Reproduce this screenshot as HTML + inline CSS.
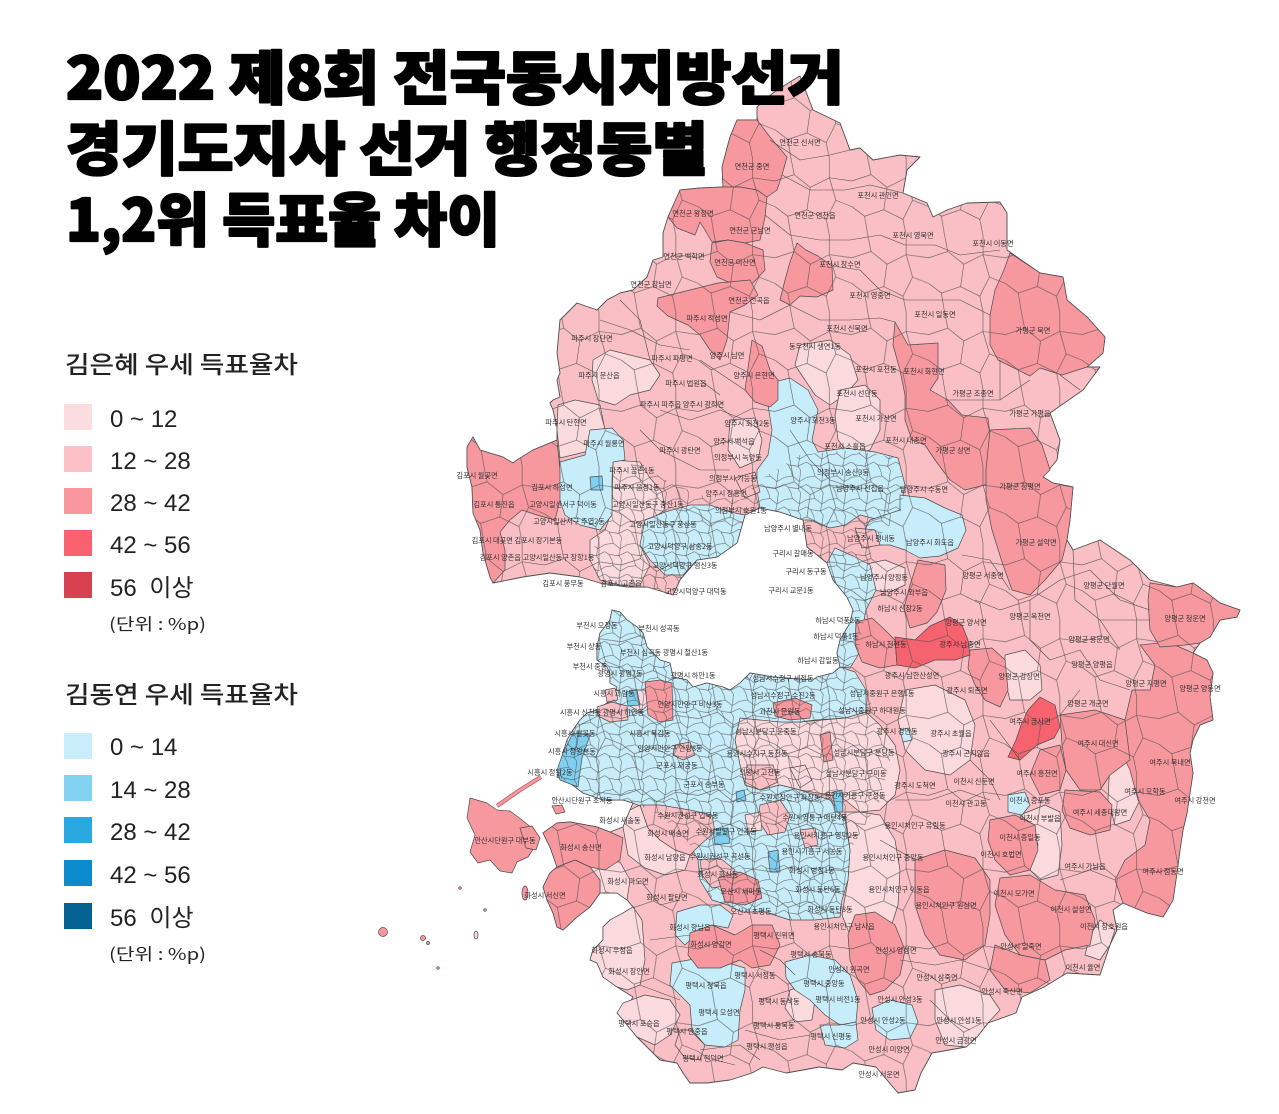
<!DOCTYPE html>
<html><head><meta charset="utf-8"><style>
html,body{margin:0;padding:0;background:#fff;}
svg{display:block;}
</style></head><body>
<svg width="1279" height="1114" viewBox="0 0 1279 1114" xmlns="http://www.w3.org/2000/svg" xmlns:xlink="http://www.w3.org/1999/xlink">
<defs>
<pattern id="coarse" width="48" height="48" patternUnits="userSpaceOnUse" patternTransform="translate(7,5) scale(1.6)">
<path d="M0,14 L12,10 L22,18 L34,12 L48,14 M12,10 L10,0 M22,18 L20,32 L8,36 L0,30 M20,32 L32,38 L34,48 M34,12 L38,26 L32,38 M38,26 L48,30 M8,36 L10,48 M34,0 L34,12" fill="none" stroke="#555" stroke-width="0.36"/>
</pattern>
<pattern id="fine" width="16" height="16" patternUnits="userSpaceOnUse" patternTransform="scale(1.4)">
<path d="M0,5 L6,4 L11,8 L16,5 M6,4 L5,0 M11,8 L10,13 L3,12 L0,10 M16,10 L10,13 M3,12 L5,16 M10,13 L12,16 M12,0 L11,8" fill="none" stroke="#555" stroke-width="0.36"/>
</pattern>
<polygon id="outer" points="800,76 813,110 840,123 850,150 860,148 873,160 900,155 920,157 907,170 903,193 927,203 933,217 947,210 967,203 1000,202 1007,213 1007,250 1040,273 1063,277 1067,300 1087,317 1105,337 1103,353 1087,367 1100,367 1083,390 1050,413 1060,440 1057,460 1043,477 1053,483 1073,487 1070,520 1067,540 1073,550 1100,540 1130,560 1150,580 1177,587 1193,583 1207,593 1220,603 1240,610 1237,617 1220,620 1210,637 1200,643 1193,653 1207,660 1213,673 1210,697 1213,720 1200,725 1193,740 1190,753 1193,773 1190,793 1187,813 1183,830 1180,850 1177,873 1173,900 1163,917 1147,913 1123,903 1113,910 1117,930 1110,945 1100,975 1067,973 1044,987 1022,997 1016,1013 988,1023 977,1037 966,1047 932,1053 921,1073 915,1090 898,1093 887,1080 876,1067 853,1063 842,1070 819,1067 803,1070 786,1073 763,1067 752,1073 730,1080 707,1083 690,1083 683,1073 677,1063 660,1060 637,1037 623,1020 617,1013 627,1007 633,997 617,987 603,977 597,963 590,960 593,950 603,940 603,927 610,920 623,913 633,907 627,900 617,893 600,893 590,907 577,917 563,930 557,927 553,913 547,900 543,887 550,873 557,867 550,847 543,833 557,823 570,822 597,827 610,832 623,827 630,810 633,803 623,800 603,800 583,793 570,783 557,777 560,767 563,753 567,740 573,730 580,720 587,713 597,710 607,703 613,700 617,687 610,683 610,673 607,667 597,660 597,647 600,633 610,620 612,610 620,612 627,620 637,627 643,633 647,647 653,653 660,660 670,663 673,677 687,680 693,687 707,683 723,687 730,690 740,683 750,673 773,677 813,680 817,677 833,673 840,667 837,653 840,640 850,623 853,610 847,597 833,580 827,563 807,547 803,520 780,512 760,508 745,515 737,543 717,557 697,560 680,580 673,595 667,593 647,587 627,587 600,583 580,577 550,573 523,577 493,583 490,577 483,553 480,530 473,513 472,487 467,467 467,447 473,437 480,450 503,457 513,463 517,460 533,450 550,443 557,440 557,427 553,410 550,403 553,400 560,397 557,380 560,373 557,353 560,320 567,313 577,303 597,310 607,300 620,293 633,290 647,277 653,260 663,257 663,233 668,217 680,190 700,188 723,187 722,167 730,137 737,120 757,120 757,107 773,93 793,80"/>
<polygon id="metro" points="597,647 600,633 610,620 612,610 620,612 627,620 637,627 643,633 647,647 653,653 660,660 670,663 673,677 687,680 693,687 707,683 723,687 730,690 740,683 750,673 773,677 813,680 817,677 833,673 840,667 855,672 866,690 880,725 890,760 880,800 850,850 848,880 842,900 840,917 815,920 790,920 765,912 742,912 728,905 712,900 700,880 698,860 690,845 675,830 660,815 645,808 633,803 623,800 603,800 583,793 570,783 557,777 560,767 563,753 567,740 573,730 580,720 587,713 597,710 607,703 613,700 617,687 610,683 610,673 607,667 597,660"/>
<polygon id="metro2" points="612,470 640,462 665,480 700,495 740,500 760,480 800,455 850,450 898,458 905,490 900,515 870,545 876,590 866,610 862,630 858,655 850,668 840,667 837,653 840,640 850,623 853,610 847,597 833,580 827,563 807,547 803,520 780,512 760,508 745,515 737,543 717,557 697,560 680,580 673,595 667,593 647,587 627,587 600,583 590,560 600,530 612,510"/>
</defs>
<rect width="1279" height="1114" fill="#fff"/>
<g stroke="#4d4d4d" stroke-width="0.7" stroke-linejoin="round">
<use xlink:href="#outer" href="#outer" fill="#f9bfc4" stroke-width="0.9"/>

<!-- Daebudo island + causeway -->
<polyline fill="none" stroke="#b95a62" stroke-width="4.2" points="497,806 520,790 541,777"/>
<polyline fill="none" stroke="#f7979e" stroke-width="2.6" points="497,806 520,790 541,777"/>
<polygon fill="#f7979e" points="470,798 487,803 497,810 510,811 522,820 532,828 536,845 528,857 517,862 512,873 500,871 490,860 478,863 470,852 475,835 467,818"/>
<polygon fill="#f7979e" points="520,828 532,826 540,838 536,850 526,848"/>
<polygon fill="#f7979e" points="552,806 562,805 565,812 556,814"/>
<circle cx="383" cy="932" r="4.5" fill="#f7979e"/>
<circle cx="423" cy="938" r="2.5" fill="#f7979e"/>
<circle cx="428" cy="943" r="1.5" fill="#f7979e"/>
<ellipse cx="476" cy="935" rx="2" ry="4" fill="#fadadd"/>
<circle cx="460" cy="888" r="1.3" fill="#f7979e"/>
<circle cx="485" cy="910" r="1.3" fill="#f7979e"/>
<circle cx="438" cy="968" r="1.3" fill="#f7979e"/>
<ellipse cx="525" cy="893" rx="3" ry="7" fill="#f7979e"/>

<!-- light pink (0-12) -->
<g fill="#fadadd">
<polygon points="593,360 610,350 630,355 650,360 660,375 650,390 630,395 615,405 598,400 592,380"/>
<polygon points="558,405 575,400 600,405 605,430 600,445 585,452 560,458 557,430"/>
<polygon points="800,345 830,340 850,355 858,380 845,395 830,405 815,395 805,380 795,365"/>
<polygon points="840,390 865,385 880,400 880,430 870,450 850,455 838,440 835,415"/>
<polygon points="613,460 640,462 650,478 662,492 665,510 650,520 640,545 650,565 640,585 620,585 600,580 590,560 590,540 605,530 612,510"/>
<polygon points="730,420 755,418 762,440 758,460 740,468 728,450"/>
<polygon points="862,565 885,560 905,568 905,585 890,592 870,590"/>
<polygon points="1005,655 1025,650 1040,665 1042,690 1030,700 1010,700 1005,680"/>
<polygon points="905,690 935,685 965,700 975,725 970,760 950,775 925,770 905,750 898,720"/>
<polygon points="1020,815 1045,805 1060,812 1062,845 1058,875 1040,880 1030,870 1038,845 1033,825"/>
<polygon points="1110,760 1125,752 1138,765 1140,800 1130,820 1115,825 1108,800"/>
<polygon points="583,870 600,862 620,862 630,880 627,900 617,893 600,893 600,880"/>
<polygon points="603,927 610,920 623,913 633,907 642,920 645,960 640,985 627,990 617,987 603,977 597,963 590,960 593,950 603,940"/>
<polygon points="617,1013 623,1003 645,995 670,1000 680,1015 670,1035 655,1045 637,1037 623,1020"/>
<polygon points="935,990 960,985 990,995 1000,1010 988,1023 977,1037 966,1047 945,1045 935,1020"/>
<polygon points="623,827 630,810 640,805 648,828 660,840 675,850 690,855 685,870 665,875 645,868 628,855"/>
<polygon points="740,718 760,720 800,722 845,718 866,712 880,725 895,745 900,770 895,795 880,810 860,812 845,800 830,795 800,790 780,785 760,790 745,785 740,765 735,740"/>
<polygon points="845,812 860,812 880,815 895,840 900,870 898,905 890,930 870,940 850,935 842,915 848,880 850,850"/>
<polygon points="1100,920 1115,930 1110,945 1100,960 1085,955 1090,935"/>
<polygon points="790,990 805,985 815,1000 812,1020 795,1022 785,1008"/>
</g>

<!-- base metro blue (0-14) -->
<g fill="#c8edfa">
<polygon points="597,647 600,633 610,620 612,610 620,612 627,620 637,627 643,633 647,647 653,653 660,660 670,663 673,677 687,680 693,687 707,683 723,687 730,690 740,683 750,673 773,677 813,680 817,677 833,673 840,667 855,672 866,690 866,712 845,718 815,720 800,722 780,722 760,720 740,718 735,740 740,765 745,785 760,790 780,785 800,790 830,800 845,820 850,850 848,880 842,900 840,917 815,920 790,920 765,912 742,912 728,905 712,900 700,880 698,860 690,845 675,830 660,815 645,808 633,803 623,800 603,800 583,793 570,783 557,777 560,767 563,753 567,740 573,730 580,720 587,713 597,710 607,703 613,700 617,687 610,683 610,673 607,667 597,660"/>
<polygon points="560,462 585,455 590,430 612,428 623,440 625,460 613,462 612,480 612,515 600,530 580,525 565,515 558,495"/>
<polygon points="645,520 665,512 690,505 710,505 730,512 745,515 737,543 717,557 697,560 683,575 665,575 650,560 640,545"/>
<polygon points="762,385 790,378 808,390 818,410 812,440 818,452 845,448 875,452 898,458 905,485 900,510 880,520 860,515 845,525 830,528 810,520 803,520 780,512 760,508 757,490 757,470 768,455 772,430 768,405"/>
<polygon points="900,495 925,498 945,508 962,515 966,530 958,548 940,556 920,558 905,550 890,545 875,545 862,535 870,520 885,515 900,510"/>
<polygon points="835,548 853,556 870,565 876,590 866,610 862,630 858,655 850,668 840,667 837,653 840,640 850,623 853,610 847,597 833,580 827,563"/>
<polygon points="672,963 700,958 725,962 745,968 745,990 740,1010 738,1040 725,1047 705,1045 692,1030 690,1005 680,995 670,985"/>
<polygon points="677,912 700,905 720,905 733,915 728,928 712,925 695,935 685,945 675,935"/>
<polygon points="785,962 810,955 835,960 850,975 858,1000 856,1022 840,1025 825,1015 810,1000 795,990 786,978"/>
<polygon points="820,1025 840,1025 856,1022 858,1040 845,1048 825,1045"/>
<polygon points="872,1008 890,1000 912,1005 918,1022 910,1038 890,1040 876,1030"/>
<polygon points="1008,795 1025,792 1030,805 1022,815 1008,812"/>
<polygon points="900,730 908,728 912,740 903,742"/>
</g>

<!-- pink spots inside metro -->
<g fill="#f9bfc4">
<polygon points="640,805 660,805 690,810 712,815 715,832 700,845 690,855 675,850 660,840 648,828"/>
<polygon points="700,860 720,858 735,870 730,885 712,888 702,875"/>
<polygon points="747,765 773,765 778,782 760,790 745,782"/>
<polygon points="760,805 780,800 790,815 785,832 768,835 758,820"/>
<polygon points="597,707 612,702 627,706 628,720 610,722 598,716"/>
<polygon points="675,745 690,742 695,755 683,760 673,755"/>
<polygon points="605,690 615,688 618,700 607,702"/>
<polygon points="735,478 755,472 760,492 745,498"/>
<polygon points="855,528 875,530 880,545 862,548"/>
<polygon points="800,830 815,828 818,845 805,848"/>
<polygon points="690,1030 705,1045 700,1060 685,1058 675,1045 680,1030"/>
</g>
<g fill="#fadadd">
<polygon points="635,690 645,690 648,705 640,712 630,706"/>
<polygon points="790,768 805,765 812,780 800,788"/>
<polygon points="745,815 760,812 762,830 748,832"/>
</g>

<!-- dark pink (28-42) -->
<g fill="#f7979e">
<polygon points="737,120 757,120 770,137 787,157 782,175 777,190 767,197 757,190 740,187 723,187 722,167 730,137"/>
<polygon points="680,190 700,188 723,187 740,187 757,190 767,197 765,217 760,240 745,243 728,240 712,242 705,230 700,222 695,235 677,228 668,217"/>
<polygon points="712,243 728,240 745,243 763,250 765,270 753,283 735,285 717,277 710,262"/>
<polygon points="797,243 806,250 818,256 832,266 833,290 817,297 800,296 790,305 780,300 785,280 790,262"/>
<polygon points="658,298 690,290 718,283 750,280 758,295 745,305 730,312 727,340 720,360 710,350 700,335 688,325 668,316 657,306"/>
<polygon points="752,340 762,346 770,370 778,380 778,400 770,407 755,402 745,390 748,368"/>
<polygon points="895,322 908,345 938,343 938,378 930,390 948,400 962,415 988,418 992,450 996,470 985,485 965,490 950,480 935,460 925,445 912,440 905,420 905,395 900,370 893,345"/>
<polygon points="1010,253 1040,273 1063,277 1067,300 1087,317 1105,337 1103,353 1087,367 1062,375 1040,368 1030,376 1010,366 998,360 990,345 990,315 995,290 1004,270"/>
<polygon points="990,430 1030,428 1042,445 1050,470 1043,477 1053,483 1073,487 1070,520 1067,540 1062,560 1045,580 1030,595 1012,590 1002,562 992,530 986,500 986,470"/>
<polygon points="467,447 473,437 480,450 503,457 513,463 517,460 533,450 550,443 557,440 560,470 560,500 555,520 540,516 522,510 510,520 500,532 505,550 505,570 493,583 490,577 483,553 480,530 473,513 472,487 467,467"/>
<polygon points="856,622 872,618 885,630 895,640 897,665 880,668 862,662 855,645"/>
<polygon points="918,560 945,565 946,590 937,612 927,623 910,628 904,608 910,585"/>
<polygon points="970,650 992,648 1005,660 1008,690 1000,707 985,700 975,685 968,668"/>
<polygon points="1140,645 1168,642 1193,653 1207,660 1213,673 1210,697 1213,720 1200,725 1193,740 1190,753 1193,773 1190,793 1187,813 1183,830 1180,850 1177,873 1173,900 1163,917 1147,913 1123,903 1115,880 1125,860 1145,845 1150,820 1138,800 1130,770 1120,750 1125,720 1132,690 1150,690 1155,665"/>
<polygon points="1150,583 1177,587 1193,583 1207,593 1220,603 1240,610 1237,617 1220,620 1210,637 1200,643 1185,645 1160,647 1150,630 1148,600"/>
<polygon points="1060,715 1095,710 1125,720 1130,760 1110,775 1100,790 1080,790 1066,770 1062,745"/>
<polygon points="1065,790 1100,792 1112,805 1110,830 1090,835 1070,828 1062,810"/>
<polygon points="1040,750 1060,745 1066,770 1060,790 1040,795 1030,775"/>
<polygon points="990,820 1015,815 1035,825 1038,850 1030,870 1010,875 995,860 988,840"/>
<polygon points="915,860 945,850 975,858 990,880 990,915 985,945 965,960 940,955 925,935 915,905"/>
<polygon points="1000,878 1030,875 1055,890 1085,895 1095,920 1090,945 1065,950 1045,960 1020,955 1005,935 995,905"/>
<polygon points="995,945 1020,955 1045,960 1050,980 1030,993 1005,990 990,970"/>
<polygon points="855,915 875,912 895,925 905,950 900,975 885,990 870,995 858,980 850,960 848,935"/>
<polygon points="543,833 557,823 570,822 597,827 610,832 623,838 620,860 605,870 590,867 575,860 557,867 550,847"/>
<polygon points="557,867 575,860 590,867 600,880 600,893 590,907 577,917 563,930 557,927 553,913 547,900 543,887 550,873"/>
<polygon points="690,933 712,925 735,935 752,925 772,925 780,945 770,965 752,968 740,960 720,968 698,968 688,955"/>
<polygon points="645,682 660,680 672,683 673,720 660,722 648,715"/>
<polygon points="773,703 795,698 812,705 810,718 790,720 775,716"/>
<polygon points="718,878 740,872 758,880 762,898 745,905 725,902"/>
<polygon points="820,735 830,732 833,760 824,762"/>
</g>
<!-- 42-56 -->
<g fill="#f6636e">
<polygon points="895,637 915,640 930,626 950,617 962,625 968,640 970,655 955,660 935,660 915,668 897,665"/>
<polygon points="1040,697 1055,705 1060,727 1054,738 1037,745 1020,760 1008,757 1016,740 1021,725 1028,710"/>
</g>
<!-- blue 14-28 -->
<g fill="#7fcff0">
<polygon points="573,733 590,735 582,758 578,787 560,780 557,770 563,753"/>
<polygon points="590,477 602,476 603,490 591,490"/>
<polygon points="626,692 637,690 640,705 628,706"/>
<polygon points="713,830 728,828 730,843 715,845"/>
<polygon points="833,792 842,790 843,812 835,812"/>
<polygon points="768,852 778,850 780,872 770,872"/>
<polygon points="736,792 744,790 746,800 737,802"/>
</g>

<!-- texture of region borders -->
<use xlink:href="#outer" href="#outer" fill="url(#coarse)" stroke="none"/>
<use xlink:href="#metro" href="#metro" fill="url(#fine)" stroke="none"/>
<use xlink:href="#metro2" href="#metro2" fill="url(#fine)" stroke="none"/>

<!-- interior boundary lines -->
<g fill="none" stroke-width="0.6">
<polyline points="770,140 800,160 830,155 850,150"/>
<polyline points="782,175 810,190 845,190 870,185 903,193"/>
<polyline points="765,215 790,235 820,240 850,240 880,235 905,245 935,245 960,255 1000,250"/>
<polyline points="833,266 860,270 880,290 905,300 930,300 960,300 990,315"/>
<polyline points="790,305 820,320 850,320 880,318 895,322"/>
<polyline points="730,312 760,320 790,305"/>
<polyline points="600,320 630,330 660,345 690,350"/>
<polyline points="700,360 730,380 745,390"/>
<polyline points="660,410 690,420 720,410 745,420 760,430"/>
<polyline points="640,430 660,450 700,470 730,470"/>
<polyline points="945,400 1000,400 1030,380"/>
<polyline points="1000,360 1000,400"/>
<polyline points="1060,375 1080,390"/>
<polyline points="962,555 990,560 1010,590"/>
<polyline points="975,600 1000,610 1030,600 1060,580 1090,570 1120,600 1150,610"/>
<polyline points="1030,600 1030,640 1050,660 1080,650 1100,680 1130,690"/>
<polyline points="1100,620 1120,650"/>
<polyline points="1080,690 1060,715"/>
<polyline points="1073,550 1075,600 1100,620 1150,620"/>
<polyline points="990,720 1020,760"/>
<polyline points="970,760 990,780 1000,800"/>
<polyline points="895,800 930,800 960,790 990,800"/>
<polyline points="880,840 915,860"/>
<polyline points="1060,880 1090,870 1115,880"/>
<polyline points="900,960 935,965 960,960 990,970"/>
<polyline points="760,1000 790,990"/>
<polyline points="745,1030 780,1040 810,1035"/>
<polyline points="700,1050 740,1045 760,1060"/>
<polyline points="650,940 690,935"/>
<polyline points="640,985 680,1000"/>
<polyline points="640,880 660,905 680,900"/>
<polyline points="620,300 640,320 650,360"/>
<polyline points="700,380 720,395"/>
<polyline points="790,430 810,460 830,480 860,490"/>
<polyline points="930,1000 950,1020 970,1030"/>
<polyline points="760,950 780,960 795,975"/>
<polyline points="715,1060 735,1065"/>
</g>
</g>

<!-- map labels -->
<g font-family="'Noto Sans CJK KR','Liberation Sans',sans-serif" font-size="7.2" fill="#333" text-anchor="middle">
<text x="800" y="145">연천군 신서면</text>
<text x="752" y="169">연천군 중면</text>
<text x="878" y="198">포천시 관인면</text>
<text x="693" y="216">연천군 왕징면</text>
<text x="750" y="233">연천군 군남면</text>
<text x="815" y="218">연천군 연천읍</text>
<text x="913" y="238">포천시 영북면</text>
<text x="993" y="246">포천시 이동면</text>
<text x="684" y="259">연천군 백학면</text>
<text x="735" y="265">연천군 미산면</text>
<text x="840" y="267">포천시 창수면</text>
<text x="651" y="287">연천군 장남면</text>
<text x="749" y="303">연천군 전곡읍</text>
<text x="870" y="298">포천시 영중면</text>
<text x="707" y="321">파주시 적성면</text>
<text x="935" y="317">포천시 일동면</text>
<text x="1033" y="333">가평군 북면</text>
<text x="592" y="341">파주시 장단면</text>
<text x="847" y="331">포천시 신북면</text>
<text x="815" y="349">동두천시 생연1동</text>
<text x="727" y="358">양주시 남면</text>
<text x="672" y="361">파주시 파평면</text>
<text x="876" y="372">포천시 포천동</text>
<text x="924" y="374">포천시 화현면</text>
<text x="599" y="378">파주시 문산읍</text>
<text x="754" y="378">양주시 은현면</text>
<text x="686" y="386">파주시 법원읍</text>
<text x="857" y="396">포천시 선단동</text>
<text x="973" y="396">가평군 조종면</text>
<text x="682" y="407">파주시 파주읍 양주시 광적면</text>
<text x="876" y="421">포천시 가산면</text>
<text x="1030" y="416">가평군 가평읍</text>
<text x="566" y="425">파주시 탄현면</text>
<text x="747" y="426">양주시 회천2동</text>
<text x="813" y="423">양주시 회천3동</text>
<text x="906" y="443">포천시 내촌면</text>
<text x="604" y="446">파주시 월롱면</text>
<text x="734" y="444">양주시 백석읍</text>
<text x="845" y="449">포천시 소흘읍</text>
<text x="953" y="453">가평군 상면</text>
<text x="680" y="453">파주시 광탄면</text>
<text x="738" y="460">의정부시 녹양동</text>
<text x="477" y="478">김포시 월곶면</text>
<text x="632" y="473">파주시 금촌1동</text>
<text x="843" y="475">의정부시 송산3동</text>
<text x="733" y="481">의정부시 가능동</text>
<text x="552" y="490">김포시 하성면</text>
<text x="637" y="490">파주시 운정1동</text>
<text x="860" y="491">남양주시 진접읍</text>
<text x="726" y="496">양주시 장흥면</text>
<text x="1020" y="489">가평군 청평면</text>
<text x="924" y="492">남양주시 수동면</text>
<text x="494" y="507">김포시 통진읍</text>
<text x="563" y="507">고양시일산서구 덕이동</text>
<text x="648" y="507">고양시일산동구 중산1동</text>
<text x="741" y="513">의정부시 호원1동</text>
<text x="569" y="524">고양시일산서구 주엽2동</text>
<text x="663" y="527">고양시일산동구 풍산동</text>
<text x="788" y="531">남양주시 별내동</text>
<text x="871" y="541">남양주시 평내동</text>
<text x="930" y="545">남양주시 화도읍</text>
<text x="1036" y="545">가평군 설악면</text>
<text x="517" y="543">김포시 대곶면 김포시 장기본동</text>
<text x="680" y="549">고양시덕양구 삼송2동</text>
<text x="793" y="556">구리시 갈매동</text>
<text x="537" y="560">김포시 양촌읍 고양시일산동구 장항1동</text>
<text x="685" y="568">고양시덕양구 행신3동</text>
<text x="884" y="580">남양주시 양정동</text>
<text x="806" y="574">구리시 동구동</text>
<text x="983" y="578">양평군 서종면</text>
<text x="1104" y="588">양평군 단월면</text>
<text x="563" y="586">김포시 풍무동</text>
<text x="621" y="586">김포시 고촌읍</text>
<text x="696" y="594">고양시덕양구 대덕동</text>
<text x="791" y="593">구리시 교문1동</text>
<text x="904" y="595">남양주시 와부읍</text>
<text x="900" y="611">하남시 신장2동</text>
<text x="1030" y="619">양평군 옥천면</text>
<text x="1185" y="621">양평군 청운면</text>
<text x="597" y="628">부천시 오정동</text>
<text x="659" y="631">부천시 성곡동</text>
<text x="838" y="623">하남시 덕풍2동</text>
<text x="966" y="625">양평군 양서면</text>
<text x="584" y="649">부천시 상동</text>
<text x="664" y="655">부천시 심곡동 광명시 철산1동</text>
<text x="836" y="639">하남시 덕풍1동</text>
<text x="886" y="647">하남시 천현동</text>
<text x="960" y="647">광주시 남종면</text>
<text x="1089" y="642">양평군 용문면</text>
<text x="590" y="669">부천시 중동</text>
<text x="620" y="676">광명시 광명7동</text>
<text x="693" y="678">광명시 하안1동</text>
<text x="818" y="663">하남시 감일동</text>
<text x="1092" y="667">양평군 양평읍</text>
<text x="783" y="681">성남시수정구 세정동</text>
<text x="912" y="678">광주시 남한산성면</text>
<text x="1019" y="679">양평군 강상면</text>
<text x="783" y="698">성남시수정구 수진2동</text>
<text x="882" y="696">성남시중원구 은행1동</text>
<text x="967" y="693">광주시 퇴촌면</text>
<text x="1146" y="686">양평군 지평면</text>
<text x="1200" y="691">양평군 양동면</text>
<text x="614" y="696">시흥시 과림동</text>
<text x="690" y="707">안양시만안구 비산3동</text>
<text x="1088" y="706">양평군 개군면</text>
<text x="602" y="715">시흥시 신천동 광명시 하안동</text>
<text x="780" y="714">과천시 문원동</text>
<text x="872" y="713">성남시중원구 하대원동</text>
<text x="1030" y="724">여주시 금사면</text>
<text x="766" y="734">성남시분당구 운중동</text>
<text x="897" y="734">광주시 경안동</text>
<text x="951" y="736">광주시 초월읍</text>
<text x="575" y="736">시흥시 월곶동</text>
<text x="650" y="736">시흥시 목감동</text>
<text x="1098" y="746">여주시 대신면</text>
<text x="757" y="756">용인시수지구 동천동</text>
<text x="966" y="756">광주시 곤지암읍</text>
<text x="572" y="754">시흥시 정왕본동</text>
<text x="670" y="751">안양시만안구 안양8동</text>
<text x="864" y="755">성남시분당구 분당동</text>
<text x="1170" y="765">여주시 북내면</text>
<text x="677" y="768">군포시 재궁동</text>
<text x="760" y="775">의왕시 고천동</text>
<text x="856" y="776">성남시분당구 구미동</text>
<text x="550" y="775">시흥시 정왕2동</text>
<text x="974" y="784">이천시 신둔면</text>
<text x="1037" y="776">여주시 흥천면</text>
<text x="915" y="788">광주시 도척면</text>
<text x="704" y="787">군포시 송부동</text>
<text x="855" y="798">용인시기흥구 구성동</text>
<text x="790" y="800">수원시장안구 파장동</text>
<text x="966" y="806">이천시 관고동</text>
<text x="1030" y="803">이천시 증포동</text>
<text x="582" y="803">안산시단원구 초지동</text>
<text x="1145" y="794">여주시 오학동</text>
<text x="1195" y="803">여주시 강천면</text>
<text x="688" y="818">수원시권선구 입북동</text>
<text x="815" y="820">수원시영통구 매탄4동</text>
<text x="1040" y="821">이천시 부발읍</text>
<text x="1100" y="815">여주시 세종대왕면</text>
<text x="620" y="823">화성시 새솔동</text>
<text x="915" y="828">용인시처인구 유림동</text>
<text x="505" y="843">안산시단원구 대부동</text>
<text x="726" y="834">수원시팔달구 인계동</text>
<text x="668" y="836">화성시 매송면</text>
<text x="1020" y="840">이천시 증일동</text>
<text x="826" y="838">용인시기흥구 영덕2동</text>
<text x="581" y="850">화성시 송산면</text>
<text x="812" y="854">용인시기흥구 서농동</text>
<text x="720" y="859">수원시권선구 곡선동</text>
<text x="665" y="860">화성시 남양읍</text>
<text x="893" y="860">용인시처인구 중앙동</text>
<text x="1001" y="857">이천시 호법면</text>
<text x="1085" y="869">여주시 가남읍</text>
<text x="1163" y="874">여주시 점동면</text>
<text x="718" y="877">화성시 화산동</text>
<text x="812" y="873">화성시 병점1동</text>
<text x="628" y="884">화성시 마도면</text>
<text x="741" y="894">오산시 세마동</text>
<text x="818" y="892">화성시 동탄6동</text>
<text x="899" y="892">용인시처인구 이동읍</text>
<text x="1014" y="896">이천시 모가면</text>
<text x="667" y="900">화성시 팔탄면</text>
<text x="946" y="908">용인시처인구 원삼면</text>
<text x="545" y="898">화성시 서신면</text>
<text x="751" y="914">오산시 초평동</text>
<text x="830" y="912">화성시 동탄8동</text>
<text x="1071" y="912">이천시 설성면</text>
<text x="690" y="930">화성시 향남읍</text>
<text x="844" y="929">용인시처인구 남사읍</text>
<text x="1104" y="929">이천시 장호원읍</text>
<text x="774" y="938">평택시 진위면</text>
<text x="711" y="947">화성시 양감면</text>
<text x="1021" y="949">안성시 일죽면</text>
<text x="612" y="953">화성시 우정읍</text>
<text x="896" y="953">안성시 양성면</text>
<text x="811" y="957">평택시 송북동</text>
<text x="1083" y="970">이천시 율면</text>
<text x="629" y="974">화성시 장안면</text>
<text x="849" y="972">안성시 원곡면</text>
<text x="755" y="978">평택시 서정동</text>
<text x="937" y="980">안성시 삼죽면</text>
<text x="706" y="988">평택시 청북읍</text>
<text x="824" y="986">평택시 중앙동</text>
<text x="1002" y="994">안성시 죽산면</text>
<text x="779" y="1004">평택시 동삭동</text>
<text x="838" y="1002">평택시 비전1동</text>
<text x="900" y="1002">안성시 안성3동</text>
<text x="719" y="1015">평택시 오성면</text>
<text x="883" y="1023">안성시 안성2동</text>
<text x="959" y="1023">안성시 안성1동</text>
<text x="639" y="1026">평택시 포승읍</text>
<text x="774" y="1028">평택시 통복동</text>
<text x="687" y="1034">평택시 안중읍</text>
<text x="831" y="1039">평택시 신평동</text>
<text x="956" y="1043">안성시 금광면</text>
<text x="889" y="1052">안성시 미양면</text>
<text x="767" y="1049">평택시 팽성읍</text>
<text x="703" y="1061">평택시 현덕면</text>
<text x="879" y="1077">안성시 서운면</text>
</g>

<!-- title -->
<g font-family="'Noto Sans CJK KR','Noto Sans CJK SC',sans-serif" font-weight="900" font-size="58" fill="#000" stroke="#000" stroke-width="2.2" stroke-linejoin="round">
<text x="66" y="99" textLength="778" lengthAdjust="spacingAndGlyphs">2022 제8회 전국동시지방선거</text>
<text x="66" y="170" textLength="642" lengthAdjust="spacingAndGlyphs">경기도지사 선거 행정동별</text>
<text x="66" y="241" textLength="434" lengthAdjust="spacingAndGlyphs">1,2위 득표율 차이</text>
</g>

<!-- legends -->
<g font-family="'Noto Sans CJK KR','Liberation Sans',sans-serif" fill="#222">
<text x="65" y="373" font-size="24" font-weight="500" textLength="233" lengthAdjust="spacingAndGlyphs">김은혜 우세 득표율차</text>
<text x="65" y="703" font-size="24" font-weight="500" textLength="233" lengthAdjust="spacingAndGlyphs">김동연 우세 득표율차</text>
</g>
<rect x="64" y="404" width="28" height="26" fill="#fbdcdf"/>
<rect x="64" y="446" width="28" height="26" fill="#fbc1c6"/>
<rect x="64" y="488" width="28" height="26" fill="#f9969e"/>
<rect x="64" y="530" width="28" height="26" fill="#f8616d"/>
<rect x="64" y="572" width="28" height="26" fill="#d8414f"/>
<rect x="64" y="733" width="28" height="26" fill="#c9eefb"/>
<rect x="64" y="775" width="28" height="26" fill="#84d2f1"/>
<rect x="64" y="817" width="28" height="26" fill="#29a9df"/>
<rect x="64" y="860" width="28" height="26" fill="#0b8bcb"/>
<rect x="64" y="903" width="28" height="26" fill="#046190"/>
<g font-family="'Liberation Sans','Noto Sans CJK KR',sans-serif" font-size="24" fill="#222">
<text x="110" y="427">0 ~ 12</text>
<text x="110" y="469">12 ~ 28</text>
<text x="110" y="511">28 ~ 42</text>
<text x="110" y="553">42 ~ 56</text>
<text x="110" y="596">56 <tspan font-family="'Noto Sans CJK KR',sans-serif" dx="6">이상</tspan></text>
<text x="110" y="755">0 ~ 14</text>
<text x="110" y="798">14 ~ 28</text>
<text x="110" y="840">28 ~ 42</text>
<text x="110" y="883">42 ~ 56</text>
<text x="110" y="926">56 <tspan font-family="'Noto Sans CJK KR',sans-serif" dx="6">이상</tspan></text>
</g>
<g font-family="'Noto Sans CJK KR','Liberation Sans',sans-serif" font-size="16.5" fill="#222">
<text x="109" y="630" textLength="97" lengthAdjust="spacingAndGlyphs">(단위 : %p)</text>
<text x="109" y="960" textLength="97" lengthAdjust="spacingAndGlyphs">(단위 : %p)</text>
</g>
</svg>
</body></html>
